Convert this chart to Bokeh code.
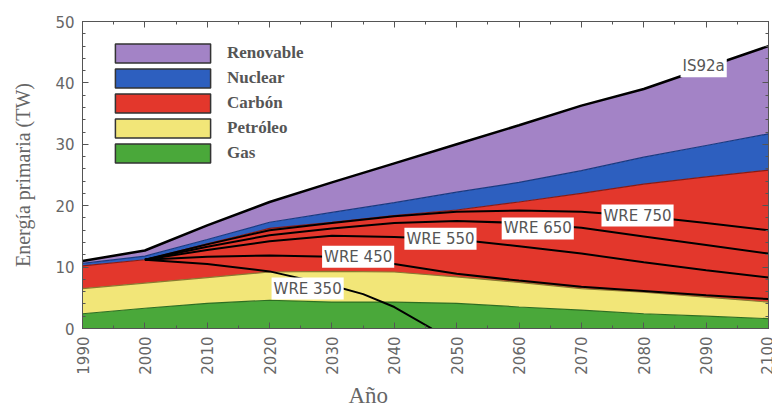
import numpy as np
from bokeh.plotting import figure
from bokeh.models import (ColumnDataSource, Legend, LegendItem, Label, LinearAxis,
                          SingleIntervalTicker, Range1d, Title)
from bokeh.embed import file_html
from bokeh.resources import INLINE

# ---------------- data (TW) ----------------
years = [1990, 2000, 2010, 2020, 2030, 2040, 2050, 2060, 2070, 2080, 2090, 2100]
gas = [2.4, 3.3, 4.1, 4.6, 4.3, 4.3, 4.1, 3.5, 3.0, 2.4, 2.0, 1.6]
petroleo = [4.1, 4.1, 4.2, 4.6, 5.0, 4.9, 4.3, 4.0, 3.5, 3.5, 3.1, 2.7]
carbon = [3.7, 3.8, 5.5, 7.1, 8.0, 9.2, 10.9, 13.1, 15.5, 17.6, 19.6, 21.5]
nuclear = [0.4, 0.6, 0.7, 1.0, 1.6, 2.1, 2.9, 3.2, 3.7, 4.4, 5.1, 5.9]
renovable = [0.4, 0.9, 2.3, 3.3, 4.9, 6.4, 7.8, 9.3, 10.6, 11.1, 12.7, 14.3]

wre_years = [2000, 2010, 2020, 2030, 2040, 2050, 2060, 2070, 2080, 2090, 2100]
wre_450 = [11.2, 11.7, 11.9, 11.7, 10.5, 8.9, 7.8, 6.8, 6.1, 5.4, 4.8]
wre_550 = [11.2, 12.8, 14.2, 15.1, 14.9, 14.5, 13.4, 12.2, 10.8, 9.5, 8.3]
wre_650 = [11.2, 13.3, 15.2, 16.3, 17.2, 17.5, 17.2, 16.4, 15.0, 13.6, 12.2]
wre_750 = [11.2, 13.7, 16.0, 17.2, 18.3, 19.0, 19.2, 19.0, 18.3, 17.2, 16.0]
wre_350_years = [2000, 2010, 2020, 2030, 2035, 2040, 2046]
wre_350 = [11.2, 10.5, 9.3, 7.0, 5.6, 3.5, 0.0]

series_names = ["Gas", "Petróleo", "Carbón", "Nuclear", "Renovable"]
colors = ["#4aa83a", "#f2e678", "#e3372c", "#2d5fbf", "#a383c6"]
edge_colors = ["#2e6e22", "#8a7a30", "#8a1a12", "#1a3a80", "#5a4080"]

label_texts = ["IS92a", "WRE 750", "WRE 650", "WRE 550", "WRE 450", "WRE 350"]
label_years = [2089.6, 2079.0, 2063.0, 2047.4, 2034.2, 2026.1]
label_vals = [42.7, 18.4, 16.3, 14.6, 11.7, 6.5]

x_ticks_interval = 10
y_ticks_interval = 10

# ---------------- figure ----------------
p = figure(width=772, height=414, output_backend="svg", toolbar_location=None,
           x_range=Range1d(1990, 2100), y_range=Range1d(0, 50),
           min_border_left=82, min_border_right=4, min_border_top=21,
           min_border_bottom=86)
p.background_fill_color = "white"
p.border_fill_color = "white"
p.outline_line_color = "#555555"
p.grid.visible = False

keys = ["gas", "petroleo", "carbon", "nuclear", "renovable"]
src = ColumnDataSource(dict(year=years, gas=gas, petroleo=petroleo, carbon=carbon,
                            nuclear=nuclear, renovable=renovable))
p.varea_stack(stackers=keys, x="year", color=colors, source=src)

stack = np.cumsum(np.array([gas, petroleo, carbon, nuclear, renovable]), axis=0)
for i in range(4):
    p.line(years, stack[i], line_color=edge_colors[i], line_width=1.2)
p.line(years, stack[4], line_color="black", line_width=2.5)

for ys, xs in [(wre_450, wre_years), (wre_550, wre_years), (wre_650, wre_years),
               (wre_750, wre_years), (wre_350, wre_350_years)]:
    p.line(xs, ys, line_color="black", line_width=2)

for t, lx, ly in zip(label_texts, label_years, label_vals):
    p.add_layout(Label(x=lx, y=ly, text=t, text_align="center", text_baseline="middle",
                       text_font="DejaVu Sans", text_font_size="15px",
                       text_color="#555555", background_fill_color="white",
                       padding=2))

# legend with outlined boxes (swatch-only renderers, no visible data)
items = []
for name, c in zip(series_names[::-1], colors[::-1]):
    r = p.quad(left=[np.nan], right=[np.nan], top=[np.nan], bottom=[np.nan],
               fill_color=c, line_color="#333333", line_width=1.5)
    items.append(LegendItem(label=name, renderers=[r]))
legend = Legend(items=items, location=(21, 163), glyph_width=119, glyph_height=24,
                label_height=24, spacing=1, padding=0, margin=0,
                label_standoff=5, label_text_font="Liberation Serif",
                label_text_font_style="bold", label_text_font_size="17px",
                label_text_color="#555555", border_line_color=None,
                background_fill_alpha=0)
p.add_layout(legend)

# axes
def style_axis(ax):
    ax.axis_line_color = "#555555"
    ax.major_tick_line_color = "#555555"
    ax.minor_tick_line_color = "#555555"
    ax.major_tick_in = 6
    ax.major_tick_out = 0
    ax.minor_tick_in = 3
    ax.minor_tick_out = 0

xt = SingleIntervalTicker(interval=x_ticks_interval, num_minor_ticks=2)
yt = SingleIntervalTicker(interval=y_ticks_interval, num_minor_ticks=5)
p.xaxis.ticker = xt
p.yaxis.ticker = yt
for ax in p.xaxis + p.yaxis:
    style_axis(ax)
    ax.major_label_text_font = "DejaVu Sans"
    ax.major_label_text_font_size = "15px"
    ax.major_label_text_color = "#666666"
    ax.major_label_standoff = 8
p.xaxis.major_label_orientation = np.pi / 2

p.yaxis.axis_label = "Energía primaria (TW)"
p.yaxis.axis_label_text_font = "Liberation Serif"
p.yaxis.axis_label_text_font_size = "20px"
p.yaxis.axis_label_text_font_style = "normal"
p.yaxis.axis_label_text_color = "#666666"
p.yaxis.axis_label_standoff = 18

top_ticks = list(range(1990, 2101, 10))
right_ticks = list(range(0, 51, 10))
for loc, tk, vals in [("above", xt, top_ticks), ("right", yt, right_ticks)]:
    ax = LinearAxis(ticker=tk, major_label_standoff=0, axis_label_standoff=0,
                    major_label_text_font_size="8px",
                    major_label_overrides={v: "" for v in vals})
    style_axis(ax)
    p.add_layout(ax, loc)

p.add_layout(Title(text="Año", align="left", offset=266, text_font="Liberation Serif",
                   text_font_size="23px", text_font_style="normal",
                   text_color="#666666", standoff=6), "below")

open("out.html", "w").write(file_html(p, INLINE))
